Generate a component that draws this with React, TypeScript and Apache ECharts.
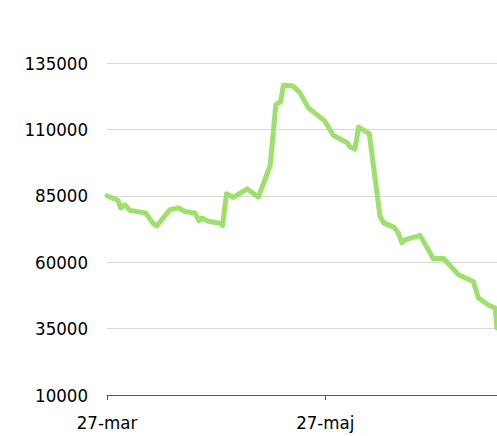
import React, { useEffect, useRef } from "react";
import * as echarts from "echarts";

// Day offsets from 27-mar and values
const days = [0, 3.1, 3.8, 5, 6.4, 10.8, 12.8, 13.9, 17.6, 20, 21.8, 24.6, 25.7, 26.5, 28.3, 31.6, 32.3, 33.4, 35.3, 39.2, 42.3, 45.6, 47.2, 48.5, 49.3, 52, 53.9, 56.3, 60.9, 63.3, 67, 68, 69.3, 70.3, 73.3, 76.3, 77.4, 80.2, 81.4, 82.4, 83.3, 87.5, 91.2, 94, 98.2, 102.4, 103.8, 106.6, 108.5, 109];
const values = [85000, 83300, 80400, 81600, 79500, 78500, 74700, 73700, 79800, 80400, 79100, 78500, 75600, 76600, 75400, 74700, 73800, 85800, 84400, 87600, 84500, 96400, 119400, 120400, 126600, 126300, 123800, 118100, 113100, 107700, 105100, 103400, 102600, 110900, 108400, 77200, 74700, 73200, 71000, 67400, 68400, 70100, 61300, 61500, 55300, 52700, 46500, 43900, 42700, 35200];
const xTickDays = [0, 61];
const xTickLabels = ["27-mar", "27-maj"];
const yMin = 10000;
const yMax = 135000;
const yStep = 25000;

export default function App() {
  const ref = useRef<HTMLDivElement>(null);
  useEffect(() => {
    if (!ref.current) return;
    document.body.style.margin = "0";
    document.body.style.overflow = "hidden";
    const chart = echarts.init(ref.current, undefined, { renderer: "svg" });
    const font = "'DejaVu Sans Condensed', 'DejaVu Sans', sans-serif";
    chart.setOption({
      animation: false,
      grid: { left: 107, right: 0, top: 63, bottom: 41, containLabel: false },
      xAxis: {
        type: "value",
        min: 0,
        max: 109,
        interval: 61,
        splitLine: { show: false },
        axisLine: { show: true, lineStyle: { color: "#595959", width: 1 } },
        axisTick: { show: true, length: 5, customValues: xTickDays, lineStyle: { color: "#595959" } },
        axisLabel: {
          customValues: xTickDays,
          color: "#000",
          fontFamily: font,
          fontSize: 18.5,
          margin: 18,
          formatter: (v: number) => {
            const i = xTickDays.indexOf(v);
            return i >= 0 ? xTickLabels[i] : "";
          },
        },
      },
      yAxis: {
        type: "value",
        min: yMin,
        max: yMax,
        interval: yStep,
        axisLine: { show: false },
        axisTick: { show: false },
        splitLine: { show: true, lineStyle: { color: "#d9d9d9", width: 1 } },
        axisLabel: {
          color: "#000",
          fontFamily: font,
          fontSize: 18.5,
          margin: 19,
          formatter: (v: number) => String(v),
        },
      },
      series: [
        {
          type: "line",
          data: days.map((d, i) => [d, values[i]]),
          showSymbol: false,
          symbol: "none",
          lineStyle: { color: "#9de06c", width: 5, join: "round", cap: "round" },
          clip: false,
        },
      ],
    });
    return () => chart.dispose();
  }, []);
  return <div ref={ref} style={{ position: "absolute", left: 0, top: 0, width: 497, height: 436 }} />;
}
